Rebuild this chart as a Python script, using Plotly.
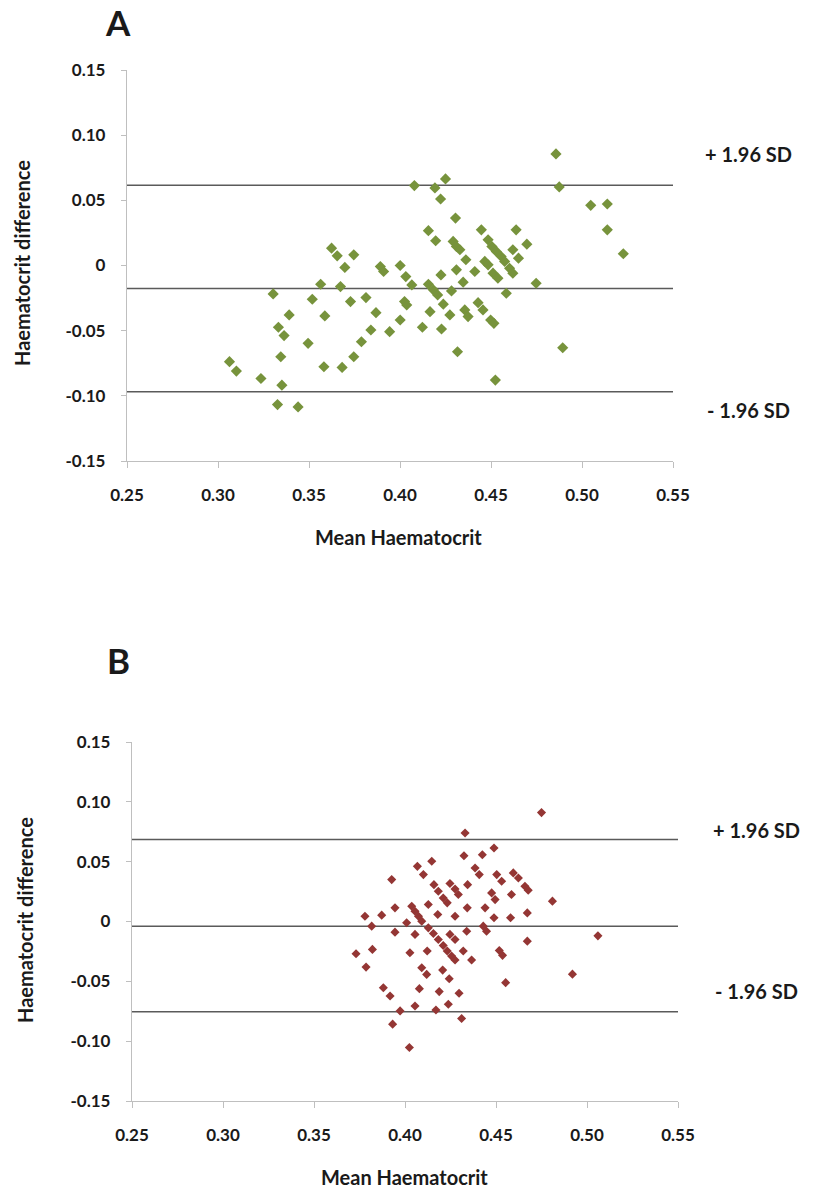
import plotly.graph_objects as go

# Panel A: mean haematocrit vs difference (green)
a_mean = [0.3063, 0.3101, 0.3236, 0.3303, 0.3391, 0.3332, 0.3363, 0.3345, 0.3351, 0.3327,
          0.3440, 0.3495, 0.3518, 0.3564, 0.3587, 0.3582, 0.3624, 0.3655, 0.3697, 0.3746,
          0.3673, 0.3728, 0.3682, 0.3746, 0.3813, 0.3788, 0.3840, 0.3868, 0.3892, 0.3910,
          0.3943, 0.4001, 0.4001,
          0.4032, 0.4065, 0.4025, 0.4037, 0.4079, 0.4192, 0.4250, 0.4223, 0.4305, 0.4156,
          0.4196, 0.4292, 0.4310, 0.4329, 0.4362, 0.4447, 0.4484, 0.4505, 0.4529, 0.4638,
          0.4697, 0.4620, 0.4651, 0.4411, 0.4310, 0.4225, 0.4347, 0.4283, 0.4156, 0.4183,
          0.4207, 0.4238, 0.4274, 0.4165, 0.4356, 0.4374, 0.4429, 0.4456, 0.4498, 0.4516,
          0.4123, 0.4228, 0.4316, 0.4524, 0.4466, 0.4484, 0.4511, 0.4538, 0.4556, 0.4575,
          0.4602, 0.4620, 0.4584, 0.4748,
          0.4857, 0.4875, 0.5048, 0.5139, 0.5139, 0.5227, 0.4894]
a_diff = [-0.0738, -0.0810, -0.0867, -0.0218, -0.0379, -0.0474, -0.0538, -0.0700, -0.0918, -0.1067,
          -0.1085, -0.0597, -0.0259, -0.0144, -0.0387, -0.0777, 0.0133, 0.0074, -0.0015, 0.0082,
          -0.0162, -0.0277, -0.0782, -0.0700, -0.0246, -0.0585, -0.0495, -0.0362, -0.0008, -0.0046,
          -0.0508, 0.0000, -0.0418,
          -0.0085, -0.0149, -0.0277, -0.0303, 0.0613, 0.0595, 0.0664, 0.0510, 0.0364, 0.0267,
          0.0190, 0.0185, 0.0146, 0.0121, 0.0044, 0.0274, 0.0197, 0.0146, 0.0108, 0.0274,
          0.0164, 0.0121, 0.0056, -0.0046, -0.0033, -0.0072, -0.0128, -0.0195, -0.0144, -0.0187,
          -0.0226, -0.0297, -0.0379, -0.0354, -0.0341, -0.0392, -0.0285, -0.0341, -0.0418, -0.0444,
          -0.0474, -0.0487, -0.0662, -0.0879, 0.0031, 0.0005, -0.0059, -0.0097, 0.0069, 0.0031,
          -0.0021, -0.0059, -0.0213, -0.0136,
          0.0856, 0.0603, 0.0462, 0.0472, 0.0274, 0.0090, -0.0631]
a_upper, a_bias, a_lower = 0.0615, -0.0177, -0.0969

# Panel B: mean haematocrit vs difference (red)
b_mean = [0.4330, 0.4324, 0.4425, 0.4489, 0.4068, 0.4147, 0.4101, 0.3927, 0.4385, 0.4408,
          0.4504, 0.4531, 0.4595, 0.4623, 0.4159, 0.4183, 0.4210, 0.4232, 0.4247, 0.4275,
          0.4293, 0.4344, 0.4476, 0.4495, 0.4585, 0.4128, 0.4342, 0.4440, 0.4489, 0.4580,
          0.3945, 0.3872, 0.3780, 0.3817, 0.4037, 0.4055, 0.4074, 0.4092, 0.4009, 0.4180,
          0.4275, 0.4128, 0.4156, 0.4183, 0.4210, 0.4232, 0.4256, 0.4275, 0.4247, 0.4275,
          0.4339, 0.4430, 0.4448, 0.3945, 0.4055, 0.3731, 0.3821, 0.3786, 0.4027, 0.4122,
          0.4320, 0.4366, 0.4518, 0.4536, 0.4092, 0.4119, 0.4207, 0.4243, 0.4553, 0.4079,
          0.4188, 0.4297, 0.3881, 0.3918, 0.4238, 0.4055, 0.3973, 0.4170, 0.4311, 0.3932,
          0.4024, 0.4659, 0.4677, 0.4672, 0.4672, 0.4750, 0.4810, 0.4920, 0.5060]
b_diff = [0.0739, 0.0550, 0.0558, 0.0614, 0.0461, 0.0503, 0.0392, 0.0350, 0.0447, 0.0392,
          0.0392, 0.0336, 0.0406, 0.0364, 0.0308, 0.0253, 0.0197, 0.0156, 0.0317, 0.0272,
          0.0225, 0.0308, 0.0239, 0.0183, 0.0225, 0.0142, 0.0114, 0.0114, 0.0031, 0.0031,
          0.0114, 0.0053, 0.0044, -0.0039, 0.0128, 0.0086, 0.0044, 0.0003, -0.0011, 0.0058,
          0.0044, -0.0053, -0.0100, -0.0150, -0.0200, -0.0247, -0.0289, -0.0322, -0.0108, -0.0150,
          -0.0081, -0.0039, -0.0081, -0.0089, -0.0108, -0.0269, -0.0233, -0.0381, -0.0261, -0.0247,
          -0.0247, -0.0322, -0.0242, -0.0283, -0.0386, -0.0442, -0.0406, -0.0478, -0.0511, -0.0561,
          -0.0586, -0.0600, -0.0553, -0.0622, -0.0692, -0.0706, -0.0747, -0.0739, -0.0811, -0.0858,
          -0.1053, 0.0295, 0.0261, 0.0072, -0.0164, 0.0910, 0.0170, -0.0440, -0.0120]
b_upper, b_bias, b_lower = 0.0685, -0.0040, -0.0755

x_ticks = [0.25, 0.30, 0.35, 0.40, 0.45, 0.50, 0.55]
x_tick_text = ["0.25", "0.30", "0.35", "0.40", "0.45", "0.50", "0.55"]
y_ticks = [0.15, 0.10, 0.05, 0.0, -0.05, -0.10, -0.15]
y_tick_text = ["0.15", "0.10", "0.05", "0", "-0.05", "-0.10", "-0.15"]

W, H = 815, 1191
FONT = "Lato"
TXT = "#1a1a1a"
AXIS_GREY = "#bfbfbf"
LINE_GREY = "#5a5a5a"


def px_x(p):
    return p / W


def px_y(p):
    return 1 - p / H


fig = go.Figure()
fig.add_trace(go.Scatter(x=a_mean, y=a_diff, mode="markers", xaxis="x", yaxis="y",
                         marker=dict(symbol="diamond", size=8.6, color="#77933c"),
                         showlegend=False, hoverinfo="x+y"))
fig.add_trace(go.Scatter(x=b_mean, y=b_diff, mode="markers", xaxis="x2", yaxis="y2",
                         marker=dict(symbol="diamond", size=7, color="#943634"),
                         showlegend=False, hoverinfo="x+y"))

# Bias and limits of agreement
for xr, yr, vals in (("x", "y", (a_upper, a_bias, a_lower)),
                     ("x2", "y2", (b_upper, b_bias, b_lower))):
    for v in vals:
        fig.add_shape(type="line", xref=f"{xr} domain", yref=yr, x0=0, x1=1, y0=v, y1=v,
                      line=dict(color=LINE_GREY, width=1.5), layer="below")

tickfont = dict(family=FONT, size=17, color=TXT, weight="bold")
common_x = dict(range=[0.25, 0.55], tickvals=x_ticks, ticktext=x_tick_text, showgrid=False,
                zeroline=False, showline=True, linecolor=AXIS_GREY, linewidth=1.3,
                ticks="outside", ticklen=6, tickcolor=AXIS_GREY, tickwidth=1.3,
                tickfont=tickfont, ticklabelstandoff=12)
common_y = dict(range=[-0.15, 0.15], tickvals=y_ticks, ticktext=y_tick_text, showgrid=False,
                zeroline=False, showline=True, linecolor=AXIS_GREY, linewidth=1.3,
                ticks="outside", ticklen=5, tickcolor=AXIS_GREY, tickwidth=1.3,
                tickfont=tickfont, ticklabelstandoff=12)

fig.update_layout(
    width=W, height=H, margin=dict(l=0, r=0, t=0, b=0, autoexpand=False),
    paper_bgcolor="white", plot_bgcolor="white",
    xaxis=dict(domain=[px_x(127), px_x(673)], anchor="y", **common_x),
    yaxis=dict(domain=[px_y(461), px_y(70)], anchor="x", **common_y),
    xaxis2=dict(domain=[px_x(132), px_x(678)], anchor="y2", **common_x),
    yaxis2=dict(domain=[px_y(1101), px_y(742)], anchor="x2", **common_y),
)

def label(text, x, y, size, angle=0):
    fig.add_annotation(text=f"<b>{text}</b>", xref="paper", yref="paper",
                       x=px_x(x), y=px_y(y), showarrow=False, textangle=angle,
                       xanchor="center", yanchor="middle",
                       font=dict(family=FONT, size=size, color=TXT))

label("A", 118, 22, 35)
label("B", 118, 660, 35)
label("Haematocrit difference", 22, 263, 20, -90)
label("Haematocrit difference", 25, 920, 20, -90)
label("Mean Haematocrit", 398, 537, 20)
label("Mean Haematocrit", 404, 1177, 20)
label("+ 1.96 SD", 748, 154, 20)
label("- 1.96 SD", 748, 410, 20)
label("+ 1.96 SD", 756, 830, 20)
label("- 1.96 SD", 756, 991, 20)

fig.write_html("out.html")
